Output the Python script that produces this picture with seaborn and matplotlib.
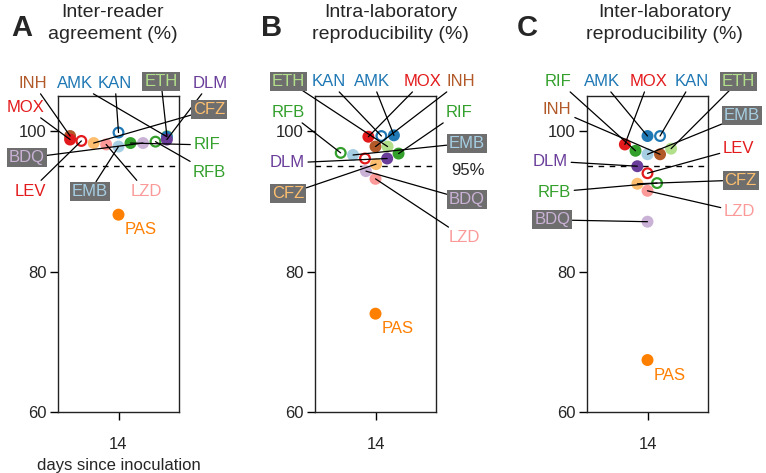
import numpy as np
import pandas as pd
import matplotlib
matplotlib.use("Agg")
import matplotlib.pyplot as plt
import matplotlib.colors as mcolors
import seaborn as sns

# ================================
# data
# ================================
drugs = ["INH", "RIF", "RFB", "EMB", "ETH", "MOX", "LEV",
         "AMK", "KAN", "LZD", "BDQ", "DLM", "CFZ", "PAS"]
inter_reader = [99.3, 98.3, 98.5, 97.8, 99.3, 98.8, 98.6,
                99.2, 99.8, 98.1, 98.3, 98.8, 98.3, 88.1]
intra_lab = [97.8, 96.8, 96.9, 96.6, 97.8, 99.2, 96.1,
             99.4, 99.3, 93.2, 94.3, 96.1, 95.3, 74.0]
inter_lab = [96.7, 97.2, 92.6, 96.7, 97.5, 98.1, 94.0,
             99.3, 99.3, 91.5, 87.1, 95.0, 92.5, 67.4]
day = 14
titles = ["Inter-reader\nagreement (%)",
          "Intra-laboratory\nreproducibility (%)",
          "Inter-laboratory\nreproducibility (%)"]
letters = ["A", "B", "C"]
threshold = 95

# ================================
# style
# ================================
colors = {
    "EMB": "#a6cee3", "AMK": "#1f78b4", "KAN": "#1f78b4",
    "ETH": "#b2df8a", "RIF": "#33a02c", "RFB": "#33a02c",
    "LZD": "#fb9a99", "MOX": "#e31a1c", "LEV": "#e31a1c",
    "CFZ": "#fdbf6f", "PAS": "#ff7f00", "BDQ": "#cab2d6",
    "DLM": "#6a3d9a", "INH": "#b15928",
}
hollow = ["RFB", "LEV", "KAN"]
boxed = ["EMB", "ETH", "BDQ", "CFZ"]

# label positions in axes fraction
label_pos = [
    {"INH": (-0.207, 1.041), "AMK": (0.140, 1.041), "KAN": (0.471, 1.041),
     "ETH": (0.851, 1.047), "DLM": (1.256, 1.041), "MOX": (-0.264, 0.965),
     "CFZ": (1.248, 0.956), "RIF": (1.231, 0.845), "RFB": (1.248, 0.759),
     "BDQ": (-0.256, 0.804), "LEV": (-0.231, 0.699), "EMB": (0.264, 0.699),
     "LZD": (0.727, 0.699)},
    {"ETH": (-0.221, 1.047), "KAN": (0.115, 1.047), "AMK": (0.475, 1.047),
     "MOX": (0.893, 1.047), "INH": (1.205, 1.047), "RFB": (-0.221, 0.949),
     "RIF": (1.189, 0.949), "EMB": (1.254, 0.851), "DLM": (-0.230, 0.788),
     "CFZ": (-0.221, 0.690), "BDQ": (1.254, 0.671), "LZD": (1.238, 0.551)},
    {"RIF": (-0.238, 1.047), "AMK": (0.123, 1.047), "MOX": (0.508, 1.047),
     "KAN": (0.869, 1.047), "ETH": (1.254, 1.047), "INH": (-0.246, 0.956),
     "EMB": (1.279, 0.937), "LEV": (1.254, 0.835), "DLM": (-0.303, 0.794),
     "CFZ": (1.270, 0.734), "RFB": (-0.270, 0.696), "LZD": (1.262, 0.633),
     "BDQ": (-0.287, 0.608)},
]
title_x = [0.455, 0.623, 0.639]
ax_left = [58, 315, 587]
letter_x = [22, 272, 527]

sns.set_style("ticks")
plt.rcParams["font.family"] = ["Liberation Sans", "DejaVu Sans"]
plt.rcParams["font.size"] = 12

W, H = 766, 473
fig = plt.figure(figsize=(W / 100, H / 100), dpi=100)

panels = [inter_reader, intra_lab, inter_lab]
axes = []
for k, vals in enumerate(panels):
    ax = fig.add_axes([ax_left[k] / W, 61 / H, 121 / W, 316 / H])
    axes.append(ax)
    df = pd.DataFrame({"drug": drugs, "value": vals, "day": day})
    sns.swarmplot(data=df, x="day", y="value", hue="drug", hue_order=drugs,
                  palette=colors, size=7, linewidth=1.6, legend=False, ax=ax)
    pts = ax.collections[0]
    rgba = np.array([mcolors.to_rgba(colors[d]) for d in drugs])
    is_hollow = np.array([d in hollow for d in drugs])
    face = rgba.copy()
    face[is_hollow] = (1, 1, 1, 1)
    pts.set_facecolors(face)
    pts.set_edgecolors(rgba)

    ax.axhline(threshold, color="k", lw=1, ls=(0, (4, 4)), zorder=0)
    ax.set_ylim(60, 105)
    ax.set_xlim(-0.5, 0.5)
    ax.set_yticks([60, 80, 100])
    ax.set_ylabel("")
    ax.set_xlabel("days since inoculation" if k == 0 else "", fontsize=12, labelpad=4)
    ax.tick_params(axis="both", direction="out", length=6, width=1,
                   labelsize=12, color="k")
    ax.tick_params(axis="x", pad=12)
    ax.tick_params(axis="y", pad=2)
    for s in ax.spines.values():
        s.set_visible(True)
        s.set_linewidth(1)
        s.set_color("#222222")

    ax.text(title_x[k], 1.229, titles[k], transform=ax.transAxes,
            ha="center", va="center", fontsize=14, linespacing=1.4)
    fig.text(letter_x[k] / W, 1 - 28 / H, letters[k], fontsize=21,
             fontweight="bold", ha="center", va="center")

axes[1].text(1.262, 0.763, "95%", transform=axes[1].transAxes,
             ha="center", va="center", fontsize=12)

# swarm positions are laid out at draw time
fig.canvas.draw()

for k, ax in enumerate(axes):
    xy = ax.collections[0].get_offsets()
    for i, d in enumerate(drugs):
        x, y = xy[i]
        if d == "PAS":
            ax.annotate(d, xy=(x, y), xytext=(4.5, -11), textcoords="offset points",
                        ha="left", va="center", color=colors[d], fontsize=12)
            continue
        if d not in label_pos[k]:
            continue
        bbox = None
        if d in boxed:
            bbox = dict(boxstyle="square,pad=0.12", fc="#6e6e6e", ec="none")
        ax.annotate(d, xy=(x, y), xytext=label_pos[k][d], textcoords="axes fraction",
                    ha="center", va="center", color=colors[d], fontsize=12,
                    bbox=bbox, annotation_clip=False,
                    arrowprops=dict(arrowstyle="-", color="k", lw=0.9,
                                    shrinkA=0, shrinkB=0))

fig.savefig("out.png", dpi=100)
